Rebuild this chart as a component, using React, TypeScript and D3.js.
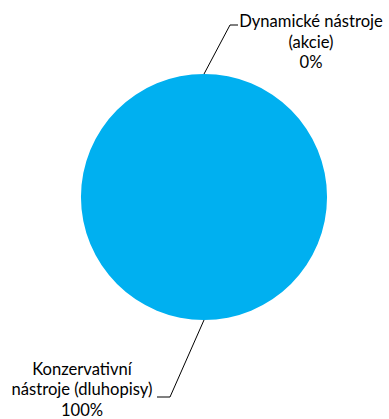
import React from "react";
import * as d3 from "d3";

// Portfolio split between dynamic (equities) and conservative (bonds) instruments
const categories = ["Dynamické nástroje (akcie)", "Konzervativní nástroje (dluhopisy)"];
const values = [0, 100];
const labelLines = [
  ["Dynamické nástroje", "(akcie)"],
  ["Konzervativní", "nástroje (dluhopisy)"],
];
const sliceColors = ["#ED7D31", "#00B0F0"];

const W = 389;
const H = 419;
const CX = 204;
const CY = 197;
const R = 123;

// Label layout per slice: elbow of the leader, end of its short tail, text block centre and first baseline
const labelLayout = [
  { elbow: [26, -172], tail: 8, textX: 311, textY: 27 },
  { elbow: [-34, 200], tail: -13, textX: 82, textY: 374.5 },
];
const lineHeight = 20.6;
const FONT = "Lato, 'Open Sans', sans-serif";
const FONT_SIZE = 16.6;

export default function App() {
  const total = d3.sum(values);
  const pie = d3
    .pie<number>()
    .sort(null)
    .startAngle(0)
    .endAngle(2 * Math.PI)(values);
  const arc = d3.arc<d3.PieArcDatum<number>>().innerRadius(0).outerRadius(R);
  const fmt = (v: number) => `${d3.format(".0f")((v / total) * 100)}%`;

  return (
    <svg
      width={W}
      height={H}
      style={{ position: "absolute", left: 0, top: 0, background: "#fff" }}
      fontFamily={FONT}
      fontSize={FONT_SIZE}
    >
      <g transform={`translate(${CX},${CY})`}>
        {pie.map((d, i) =>
          d.endAngle - d.startAngle > 0 ? (
            <path key={categories[i]} d={arc(d) || ""} fill={sliceColors[i]} />
          ) : null
        )}
        {pie.map((d, i) => {
          const mid = (d.startAngle + d.endAngle) / 2;
          const sx = Math.sin(mid) * R;
          const sy = -Math.cos(mid) * R;
          const L = labelLayout[i];
          const [ex, ey] = L.elbow;
          return (
            <polyline
              key={"leader" + i}
              points={`${sx},${sy} ${ex},${ey} ${ex + L.tail},${ey}`}
              fill="none"
              stroke="#000"
              strokeWidth={1}
            />
          );
        })}
      </g>
      {pie.map((d, i) => {
        const L = labelLayout[i];
        const lines = [...labelLines[i], fmt(d.value)];
        return (
          <text key={"label" + i} textAnchor="middle" fill="#000">
            {lines.map((t, j) => (
              <tspan key={j} x={L.textX} y={L.textY + j * lineHeight}>
                {t}
              </tspan>
            ))}
          </text>
        );
      })}
    </svg>
  );
}
